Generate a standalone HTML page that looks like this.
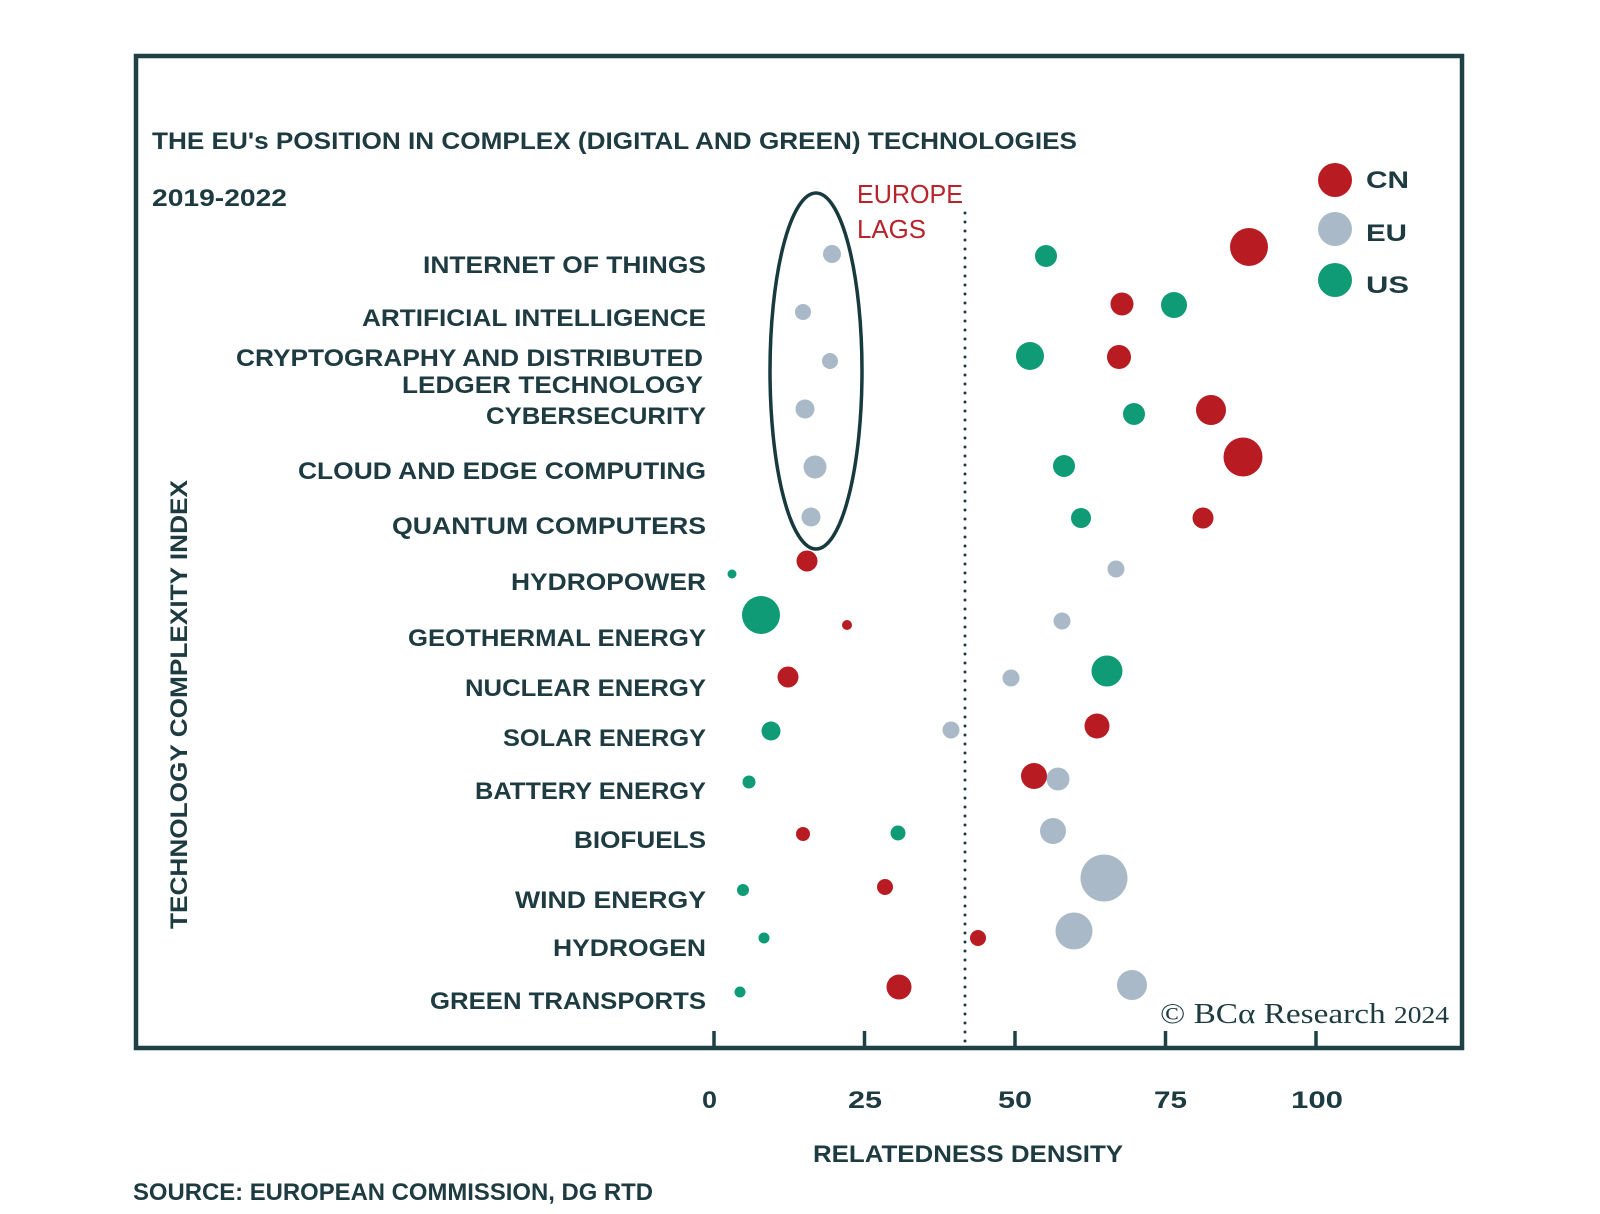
<!DOCTYPE html>
<html>
<head>
<meta charset="utf-8">
<style>
  html,body{margin:0;padding:0;background:#ffffff;}
  svg{display:block;}
  .lbl{font-family:"Liberation Sans",sans-serif;font-weight:bold;fill:#1d3b40;font-size:24px;}
</style>
</head>
<body>
<svg width="1600" height="1214" viewBox="0 0 1600 1214" xmlns="http://www.w3.org/2000/svg">
  <rect x="0" y="0" width="1600" height="1214" fill="#ffffff"/>
  <!-- frame -->
  <rect x="136" y="56" width="1326" height="992" fill="none" stroke="#1f4045" stroke-width="4.5"/>

  <!-- title -->
  <text class="lbl" x="152" y="149" font-size="24.5" textLength="925" lengthAdjust="spacingAndGlyphs">THE EU's POSITION IN COMPLEX (DIGITAL AND GREEN) TECHNOLOGIES</text>
  <text class="lbl" x="152" y="206" font-size="21" textLength="135" lengthAdjust="spacingAndGlyphs">2019-2022</text>

  <!-- y axis title -->
  <text class="lbl" transform="translate(187,929) rotate(-90)" x="0" y="0" font-size="25" textLength="449" lengthAdjust="spacingAndGlyphs">TECHNOLOGY COMPLEXITY INDEX</text>

  <!-- category labels -->
  <text class="lbl" x="423" y="273" textLength="283" lengthAdjust="spacingAndGlyphs">INTERNET OF THINGS</text>
  <text class="lbl" x="362" y="326" textLength="344" lengthAdjust="spacingAndGlyphs">ARTIFICIAL INTELLIGENCE</text>
  <text class="lbl" x="236" y="366" textLength="467" lengthAdjust="spacingAndGlyphs">CRYPTOGRAPHY AND DISTRIBUTED</text>
  <text class="lbl" x="402" y="393" textLength="301" lengthAdjust="spacingAndGlyphs">LEDGER  TECHNOLOGY</text>
  <text class="lbl" x="486" y="424" textLength="220" lengthAdjust="spacingAndGlyphs">CYBERSECURITY</text>
  <text class="lbl" x="298" y="479" textLength="408" lengthAdjust="spacingAndGlyphs">CLOUD AND EDGE COMPUTING</text>
  <text class="lbl" x="392" y="534" textLength="314" lengthAdjust="spacingAndGlyphs">QUANTUM COMPUTERS</text>
  <text class="lbl" x="511" y="590" textLength="195" lengthAdjust="spacingAndGlyphs">HYDROPOWER</text>
  <text class="lbl" x="408" y="646" textLength="298" lengthAdjust="spacingAndGlyphs">GEOTHERMAL ENERGY</text>
  <text class="lbl" x="465" y="696" textLength="241" lengthAdjust="spacingAndGlyphs">NUCLEAR ENERGY</text>
  <text class="lbl" x="503" y="746" textLength="203" lengthAdjust="spacingAndGlyphs">SOLAR ENERGY</text>
  <text class="lbl" x="475" y="799" textLength="231" lengthAdjust="spacingAndGlyphs">BATTERY ENERGY</text>
  <text class="lbl" x="574" y="848" textLength="132" lengthAdjust="spacingAndGlyphs">BIOFUELS</text>
  <text class="lbl" x="515" y="908" textLength="191" lengthAdjust="spacingAndGlyphs">WIND ENERGY</text>
  <text class="lbl" x="553" y="956" textLength="153" lengthAdjust="spacingAndGlyphs">HYDROGEN</text>
  <text class="lbl" x="430" y="1009" textLength="276" lengthAdjust="spacingAndGlyphs">GREEN TRANSPORTS</text>

  <!-- ellipse -->
  <ellipse cx="816" cy="371" rx="46" ry="178" fill="none" stroke="#173a3e" stroke-width="3.5"/>

  <!-- Europe lags -->
  <text x="857" y="203" font-family="Liberation Sans, sans-serif" font-size="26" fill="#b8232b" textLength="106" lengthAdjust="spacingAndGlyphs">EUROPE</text>
  <text x="857" y="238" font-family="Liberation Sans, sans-serif" font-size="26" fill="#b8232b" textLength="69" lengthAdjust="spacingAndGlyphs">LAGS</text>

  <!-- dotted line -->
  <line x1="965" y1="213" x2="965" y2="1042" stroke="#1d3b40" stroke-width="3" stroke-dasharray="0 9" stroke-linecap="round"/>

  <!-- ticks -->
  <g stroke="#1f4045" stroke-width="3.5">
    <line x1="714" y1="1031" x2="714" y2="1048"/>
    <line x1="864.5" y1="1031" x2="864.5" y2="1048"/>
    <line x1="1015" y1="1031" x2="1015" y2="1048"/>
    <line x1="1165.5" y1="1031" x2="1165.5" y2="1048"/>
    <line x1="1316" y1="1031" x2="1316" y2="1048"/>
  </g>
  <text class="lbl" x="702" y="1108" font-size="25" textLength="15" lengthAdjust="spacingAndGlyphs">0</text>
  <text class="lbl" x="848" y="1108" font-size="25" textLength="34" lengthAdjust="spacingAndGlyphs">25</text>
  <text class="lbl" x="998" y="1108" font-size="25" textLength="34" lengthAdjust="spacingAndGlyphs">50</text>
  <text class="lbl" x="1154" y="1108" font-size="25" textLength="33" lengthAdjust="spacingAndGlyphs">75</text>
  <text class="lbl" x="1291" y="1108" font-size="25" textLength="52" lengthAdjust="spacingAndGlyphs">100</text>

  <text class="lbl" x="813" y="1162" textLength="310" lengthAdjust="spacingAndGlyphs">RELATEDNESS DENSITY</text>
  <text class="lbl" x="133" y="1200" font-size="22" textLength="520" lengthAdjust="spacingAndGlyphs">SOURCE: EUROPEAN COMMISSION, DG RTD</text>

  <!-- copyright -->
  <text x="1160" y="1023" font-family="Liberation Serif, serif" font-size="29" fill="#1d3b40" textLength="289" lengthAdjust="spacingAndGlyphs">© BCα Research <tspan font-size="24">2024</tspan></text>

  <!-- legend -->
  <circle cx="1335" cy="180" r="17" fill="#b81c22"/>
  <circle cx="1335" cy="229" r="17" fill="#a9b9c7"/>
  <circle cx="1335" cy="280" r="17" fill="#0f9b76"/>
  <text class="lbl" x="1366" y="188" font-size="31" textLength="43" lengthAdjust="spacingAndGlyphs">CN</text>
  <text class="lbl" x="1366" y="241" font-size="31" textLength="41" lengthAdjust="spacingAndGlyphs">EU</text>
  <text class="lbl" x="1366" y="293" font-size="31" textLength="43" lengthAdjust="spacingAndGlyphs">US</text>

  <!-- EU (gray) -->
  <g fill="#a9b9c7">
    <circle cx="832" cy="254" r="9"/>
    <circle cx="803" cy="312" r="8"/>
    <circle cx="830" cy="361" r="8"/>
    <circle cx="805" cy="409" r="9.5"/>
    <circle cx="815" cy="467" r="11.5"/>
    <circle cx="811" cy="517" r="9.5"/>
    <circle cx="1116" cy="569" r="8.5"/>
    <circle cx="1062" cy="621" r="8.5"/>
    <circle cx="1011" cy="678" r="8.5"/>
    <circle cx="951" cy="730" r="8.5"/>
    <circle cx="1058" cy="779" r="11.5"/>
    <circle cx="1053" cy="831" r="13"/>
    <circle cx="1104" cy="878" r="23.5"/>
    <circle cx="1074" cy="931" r="18.5"/>
    <circle cx="1132" cy="985" r="15"/>
  </g>

  <!-- CN (red) -->
  <g fill="#b81c22">
    <circle cx="1249" cy="247" r="19"/>
    <circle cx="1122" cy="304" r="11.5"/>
    <circle cx="1119" cy="357" r="12"/>
    <circle cx="1211" cy="410" r="15"/>
    <circle cx="1243" cy="457" r="19.5"/>
    <circle cx="1203" cy="518" r="10.5"/>
    <circle cx="807" cy="561" r="10.5"/>
    <circle cx="847" cy="625" r="5"/>
    <circle cx="788" cy="677" r="10.5"/>
    <circle cx="1097" cy="726" r="12.5"/>
    <circle cx="1034" cy="776" r="13"/>
    <circle cx="803" cy="834" r="7"/>
    <circle cx="885" cy="887" r="8"/>
    <circle cx="978" cy="938" r="8"/>
    <circle cx="899" cy="987" r="12.5"/>
  </g>

  <!-- US (green) -->
  <g fill="#0f9b76">
    <circle cx="1046" cy="256" r="11"/>
    <circle cx="1174" cy="305" r="13"/>
    <circle cx="1030" cy="356" r="14"/>
    <circle cx="1134" cy="414" r="11"/>
    <circle cx="1064" cy="466" r="11"/>
    <circle cx="1081" cy="518" r="10"/>
    <circle cx="732" cy="574" r="4.5"/>
    <circle cx="761" cy="615" r="19"/>
    <circle cx="1107" cy="671" r="15.5"/>
    <circle cx="771" cy="731" r="9.5"/>
    <circle cx="749" cy="782" r="6.5"/>
    <circle cx="898" cy="833" r="7.5"/>
    <circle cx="743" cy="890" r="6"/>
    <circle cx="764" cy="938" r="5.5"/>
    <circle cx="740" cy="992" r="5.5"/>
  </g>
</svg>
</body>
</html>
